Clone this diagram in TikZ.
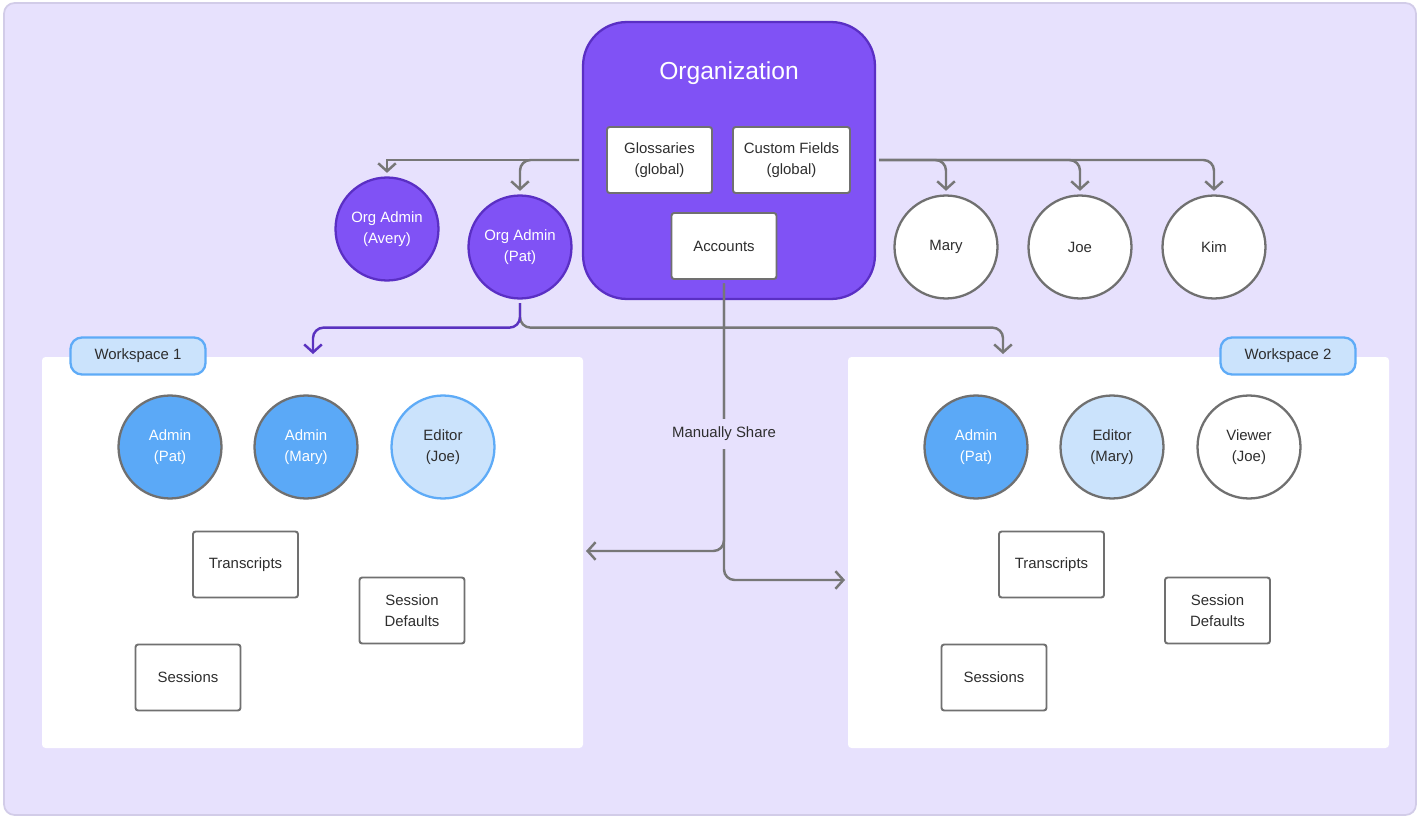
\documentclass[tikz,border=0pt]{standalone}
\usepackage{fontspec}
\setmainfont{Liberation Sans}
\usetikzlibrary{arrows.meta}
\definecolor{bgviolet}{HTML}{E7E1FD}
\definecolor{framegrey}{HTML}{D2CCE8}
\definecolor{orgviolet}{HTML}{8052F5}
\definecolor{orgline}{HTML}{5A2FC4}
\definecolor{wsviolet}{HTML}{5A32C0}
\definecolor{adminblue}{HTML}{5BA9F7}
\definecolor{lightblue}{HTML}{CBE3FC}
\definecolor{blueline}{HTML}{5EABF7}
\definecolor{boxgrey}{HTML}{707070}
\definecolor{linegrey}{HTML}{777777}
\definecolor{textgrey}{HTML}{2E2E2E}
\begin{document}
\begin{tikzpicture}[x=0.02cm,y=-0.02cm,
  txt/.style={font=\fontsize{8.5}{12.3}\selectfont,text=textgrey,align=center},
  person/.style={circle,draw=boxgrey,fill=white,line width=1.3pt,minimum size=2.06cm,txt},
  orgadmin/.style={person,draw=orgline,fill=orgviolet,text=white},
  admin/.style={person,fill=adminblue,text=white},
  editor/.style={person,fill=lightblue},
  item/.style={rectangle,rounded corners=1.5pt,draw=boxgrey,fill=white,line width=1.1pt,
    minimum width=2.1cm,minimum height=1.32cm,txt},
  wstag/.style={rectangle,rounded corners=6.5pt,draw=blueline,fill=lightblue,line width=1.3pt,
    minimum width=2.7cm,minimum height=0.74cm,txt},
  link/.style={draw=linegrey,line width=1.4pt,rounded corners=6pt,shorten <=2pt,shorten >=2pt,
    -{Straight Barb[length=4.5pt,width=10pt]}}]
\useasboundingbox (0,0) rectangle (1418,818);
\filldraw[fill=bgviolet,draw=framegrey,line width=1pt,rounded corners=6pt] (4,3) rectangle (1416,815);
\fill[white,rounded corners=2pt] (42,357) rectangle (583,748);
\fill[white,rounded corners=2pt] (848,357) rectangle (1389,748);
\node[rectangle,rounded corners=25pt,draw=orgline,fill=orgviolet,line width=1.3pt,
  minimum width=5.84cm,minimum height=5.54cm] (org) at (729,160.5) {};
\node[font=\fontsize{14}{16}\selectfont,text=white] (orgtitle) at (729,73) {Organization};
\node[item] (gloss) at (659.5,160) {Glossaries\\(global)};
\node[item,minimum width=2.34cm] (fields) at (791.5,160) {Custom Fields\\(global)};
\node[item] (acc) at (724,246) {Accounts};
\node[orgadmin] (avery) at (387,229) {Org Admin\\(Avery)};
\node[orgadmin] (pat) at (520,247) {Org Admin\\(Pat)};
\node[person] (mary) at (946,247) {Mary};
\node[person] (joe) at (1080,247) {Joe};
\node[person] (kim) at (1214,247) {Kim};
\node[wstag] (tag1) at (138,356) {Workspace 1};
\node[wstag] (tag2) at (1288,356) {Workspace 2};
\node[admin] (pat1) at (170,447) {Admin\\(Pat)};
\node[admin] (mary1) at (306,447) {Admin\\(Mary)};
\node[editor,draw=blueline] (joe1) at (443,447) {Editor\\(Joe)};
\node[item] (trans1) at (245.5,564.5) {Transcripts};
\node[item] (defaults1) at (412,610.5) {Session\\Defaults};
\node[item] (sessions1) at (188,677.5) {Sessions};
\node[admin] (pat2) at (976,447) {Admin\\(Pat)};
\node[editor] (mary2) at (1112,447) {Editor\\(Mary)};
\node[person] (joe2) at (1249,447) {Viewer\\(Joe)};
\node[item] (trans2) at (1051.5,564.5) {Transcripts};
\node[item] (defaults2) at (1217.5,610.5) {Session\\Defaults};
\node[item] (sessions2) at (994,677.5) {Sessions};
\coordinate (orgL) at (579,160);
\coordinate (orgR) at (879,160);
\coordinate (ws1in) at (313,354);
\coordinate (ws2in) at (1003,354);
\coordinate (share1) at (586,551);
\coordinate (share2) at (845,580);
\draw[link,rounded corners=0pt,shorten <=0pt] (orgL) -| (avery.north);
\draw[link,shorten <=0pt] (orgL) -| (pat.north);
\draw[link,shorten <=0pt] (orgR) -| (mary.north);
\draw[link,shorten <=0pt] (orgR) -| (joe.north);
\draw[link,shorten <=0pt] (orgR) -| (kim.north);
\draw[link,shorten >=0pt] (pat.south) -- ++(0,28) -| (ws2in);
\draw[link,draw=wsviolet,shorten >=0pt] (pat.south) -- ++(0,28) -| (ws1in);
\draw[link,shorten >=0pt] (acc.south) |- (share1);
\draw[link,shorten >=0pt] (acc.south) |- (share2);
\node[txt,fill=bgviolet,inner xsep=1pt,inner ysep=4.5pt] (share) at (724,434) {Manually Share};
\end{tikzpicture}
\end{document}
